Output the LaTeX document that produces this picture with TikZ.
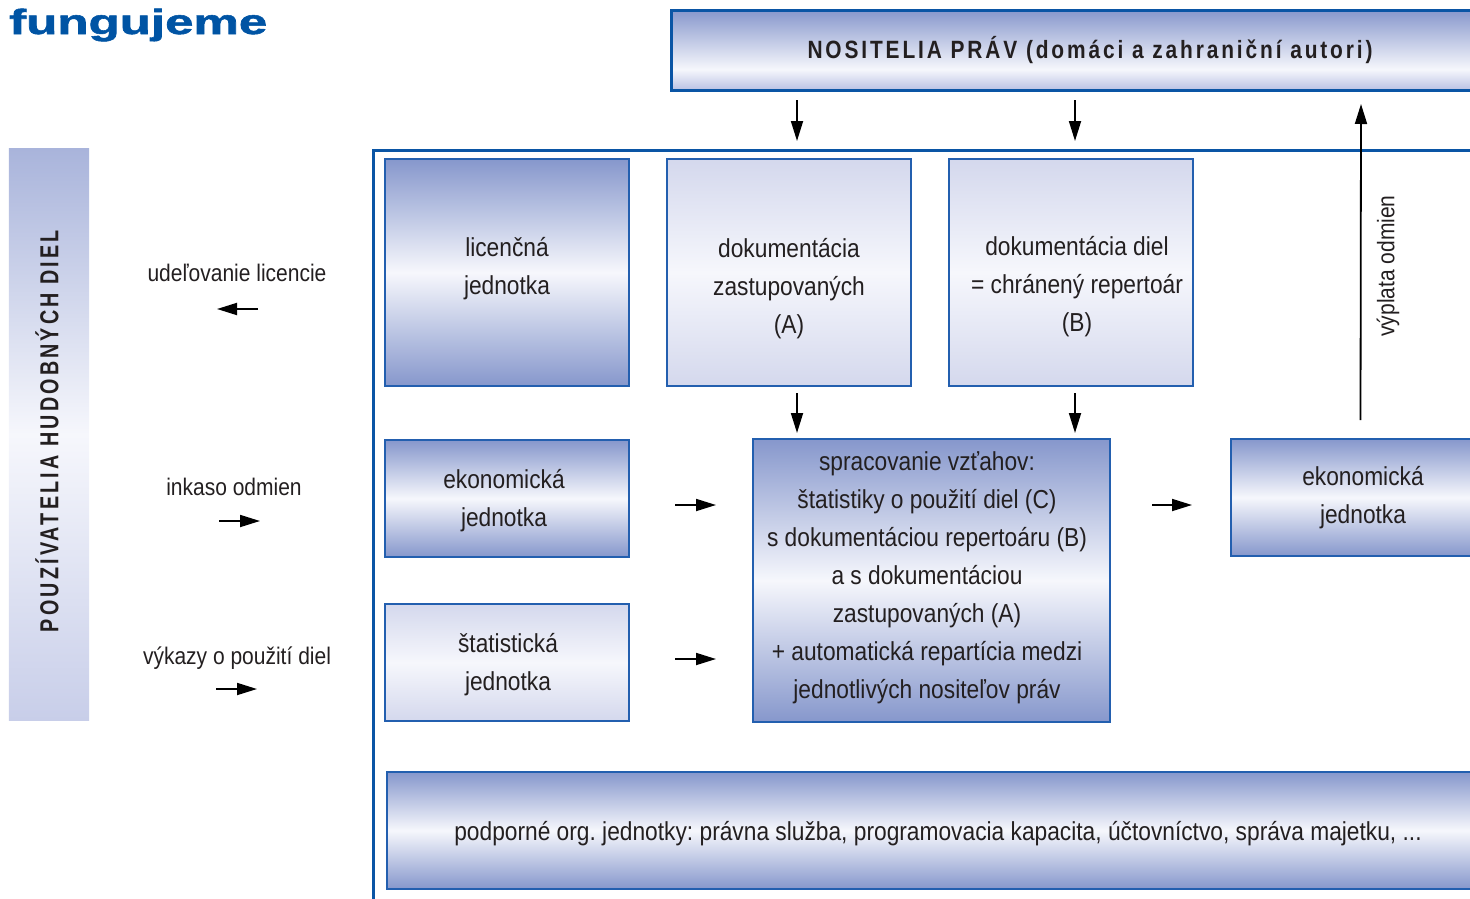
\documentclass[tikz,border=0pt]{standalone}
\usepackage{fontspec}
\usepackage{graphicx}
\setmainfont{Liberation Sans}[FakeStretch=0.875]
\newfontfamily\logofont{Liberation Sans}[BoldFeatures={FakeBold=1.5}]
\usetikzlibrary{arrows.meta}
\frenchspacing
\definecolor{logoblue}{RGB}{0,84,164}
\definecolor{frameblue}{RGB}{10,85,165}
\definecolor{boxline}{RGB}{35,95,175}
\definecolor{bdark}{RGB}{134,151,204}
\definecolor{blight}{RGB}{246,247,252}
\definecolor{bpale}{RGB}{212,216,237}
\definecolor{ink}{RGB}{35,31,32}
\definecolor{ntop}{RGB}{137,153,205}
\definecolor{nbot}{RGB}{185,194,228}
\definecolor{bartop}{RGB}{169,180,219}
\definecolor{barbot}{RGB}{200,206,233}
\pgfdeclareverticalshading{nosshade}{100bp}{color(0bp)=(nbot); color(25bp)=(nbot); color(38bp)=(blight); color(75bp)=(ntop); color(100bp)=(ntop)}
\tikzset{
  darkbox/.style={rectangle, draw=boxline, line width=1.6bp, top color=bdark, bottom color=bdark, middle color=blight, inner sep=0},
  palebox/.style={rectangle, draw=boxline, line width=1.6bp, top color=bpale, bottom color=bpale, middle color=blight, inner sep=0},
  txt/.style={text=ink, align=center, font=\fontsize{26bp}{38bp}\selectfont, inner sep=0},
  lbl/.style={text=ink, font=\fontsize{24bp}{28bp}\selectfont, inner sep=0},
  arr/.style={-{Triangle[length=20bp,width=12bp]}, line width=1.8bp, draw=black},
  frame/.style={draw=frameblue, line width=3bp}
}
\begin{document}
\begin{tikzpicture}[x=1bp,y=-1bp]
\useasboundingbox (0,0) rectangle (1470,898);
\clip (0,0) rectangle (1470,898);
% logo
\node[anchor=base west, inner sep=0, text=logoblue] (logo) at (9,34) {\resizebox{258bp}{\height}{\fontsize{35bp}{35bp}\selectfont\logofont\bfseries fungujeme}};
% top box
\node[shade, shading=nosshade, draw=frameblue, line width=3bp, minimum width=819bp, minimum height=79bp, inner sep=0] (nos) at (1080.5,50.5) {};
\node[text=ink, inner sep=0] (nosT) at (1090,50) {\resizebox{565bp}{\height}{\fontsize{25bp}{25bp}\selectfont\bfseries\addfontfeatures{LetterSpace=12}NOSITELIA PRÁV (domáci a zahraniční autori)}};
% left bar
\node[rectangle, top color=bartop, bottom color=barbot, middle color=blight, minimum width=80bp, minimum height=571bp, inner sep=0] (bar) at (49,434.5) {};
\node[text=ink, rotate=90, inner sep=0] (barT) at (47,431) {\resizebox{402bp}{\height}{\fontsize{26bp}{26bp}\selectfont\bfseries\addfontfeatures{LetterSpace=14}POUZÍVATELIA HUDOBNÝCH DIEL}};
% labels
\node[lbl] (l1) at (237,273) {udeľovanie licencie};
\node[lbl] (l2) at (234,487) {inkaso odmien};
\node[lbl] (l3) at (237,658) {výkazy o použití diel};
\coordinate (l1a) at (258,309); \coordinate (l1b) at (217,309);
\coordinate (l2a) at (219,521); \coordinate (l2b) at (260,521);
\coordinate (l3a) at (216,689); \coordinate (l3b) at (257,689);
\draw[arr] (l1a) -- (l1b);
\draw[arr] (l2a) -- (l2b);
\draw[arr] (l3a) -- (l3b);
% boxes
\node[darkbox, minimum width=244bp, minimum height=227bp] (lic) at (507,272.5) {};
\node[palebox, minimum width=244bp, minimum height=227bp] (docA) at (789,272.5) {};
\node[palebox, minimum width=244bp, minimum height=227bp] (docB) at (1071,272.5) {};
\node[darkbox, minimum width=244bp, minimum height=117bp] (ekoL) at (507,498.5) {};
\node[palebox, minimum width=244bp, minimum height=117bp] (stat) at (507,662.5) {};
\node[darkbox, minimum width=357bp, minimum height=283bp] (sprac) at (931.5,580.5) {};
\node[darkbox, minimum width=259bp, minimum height=117bp] (ekoR) at (1360.5,497.5) {};
\node[darkbox, minimum width=1103bp, minimum height=117bp] (bot) at (938.5,830.5) {};
% texts
\node[txt] (licT) at (507,268.5) {licenčná\\jednotka};
\node[txt] (docAT) at (789,289) {dokumentácia\\zastupovaných\\(A)};
\node[txt] (docBT) at (1077,287) {dokumentácia diel\\= chránený repertoár\\(B)};
\node[txt] (ekoLT) at (504,501) {ekonomická\\jednotka};
\node[txt] (statT) at (508,665) {štatistická\\jednotka};
\node[txt] (spracT) at (927,578) {spracovanie vzťahov:\\štatistiky o použití diel (C)\\s dokumentáciou repertoáru (B)\\a s dokumentáciou\\zastupovaných (A)\\+ automatická repartícia medzi\\jednotlivých nositeľov práv};
\node[txt] (ekoRT) at (1363,498) {ekonomická\\jednotka};
\node[txt] (botT) at (938,834) {podporné org. jednotky: právna služba, programovacia kapacita, účtovníctvo, správa majetku, ...};
\node[lbl, rotate=90] (vyp) at (1388,266) {výplata odmien};
% frame
\draw[frame] (1472,150) -- (373.5,150) -- (373.5,900);
% arrows
\coordinate (nA) at (797,100); \coordinate (nAe) at (797,141);
\coordinate (nB) at (1075,100); \coordinate (nBe) at (1075,141);
\coordinate (dA) at (797,393); \coordinate (dAe) at (797,433);
\coordinate (dB) at (1075,393); \coordinate (dBe) at (1075,433);
\coordinate (up) at (1361,104);
\coordinate (eA) at (675,505); \coordinate (eAe) at (716,505);
\coordinate (sA) at (675,659); \coordinate (sAe) at (716,659);
\coordinate (pA) at (1152,505); \coordinate (pAe) at (1192,505);
\draw[arr] (nA) -- (nAe);
\draw[arr] (nB) -- (nBe);
\draw[arr] (dA) -- (dAe);
\draw[arr] (dB) -- (dBe);
\draw[arr] ([yshift=18bp]ekoR.north) -- (up);
\draw[arr] (eA) -- (eAe);
\draw[arr] (sA) -- (sAe);
\draw[arr] (pA) -- (pAe);
\end{tikzpicture}
\end{document}
